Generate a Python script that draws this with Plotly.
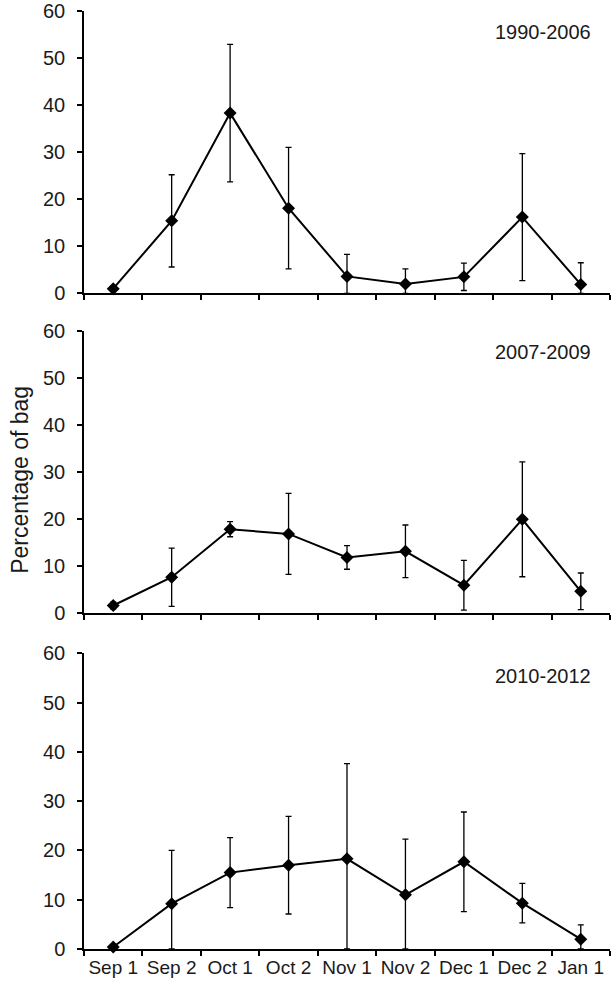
import plotly.graph_objects as go

categories = ["Sep 1", "Sep 2", "Oct 1", "Oct 2", "Nov 1", "Nov 2", "Dec 1", "Dec 2", "Jan 1"]
panel_labels = ["1990-2006", "2007-2009", "2010-2012"]

mean_1990_2006 = [1.0, 15.4, 38.3, 18.1, 3.6, 2.0, 3.5, 16.2, 1.9]
err_1990_2006 = [0.0, 9.8, 14.6, 12.9, 4.7, 3.2, 2.9, 13.5, 4.6]

mean_2007_2009 = [1.7, 7.7, 17.9, 16.9, 11.9, 13.2, 6.0, 20.0, 4.7]
err_2007_2009 = [0.7, 6.2, 1.6, 8.6, 2.5, 5.6, 5.3, 12.2, 3.9]

mean_2010_2012 = [0.4, 9.2, 15.5, 17.0, 18.3, 11.0, 17.7, 9.3, 2.0]
err_2010_2012 = [0.0, 10.8, 7.1, 9.9, 19.3, 11.3, 10.1, 4.0, 2.9]

y_ticks = [0, 10, 20, 30, 40, 50, 60]
y_title = "Percentage of bag"

series = [(mean_1990_2006, err_1990_2006),
          (mean_2007_2009, err_2007_2009),
          (mean_2010_2012, err_2010_2012)]

domains = [[0.699, 1.0], [0.3577, 0.6588], [0.0, 0.3152]]

FONT = "Liberation Sans, Arial, sans-serif"
INK = "#1a1a1a"

fig = go.Figure()
for i, (m, e) in enumerate(series):
    n = i + 1
    xa = "x" if n == 1 else f"x{n}"
    ya = "y" if n == 1 else f"y{n}"
    minus = [min(ei, mi) for mi, ei in zip(m, e)]
    fig.add_trace(go.Scatter(
        x=categories, y=m, xaxis=xa, yaxis=ya,
        mode="lines+markers",
        line=dict(color="#000000", width=2),
        marker=dict(symbol="diamond", size=10, color="#000000"),
        error_y=dict(type="data", array=e, arrayminus=minus, symmetric=False,
                     color="#000000", thickness=1.3, width=3),
        showlegend=False, cliponaxis=False,
    ))
    xkey = "xaxis" if n == 1 else f"xaxis{n}"
    ykey = "yaxis" if n == 1 else f"yaxis{n}"
    fig.layout[xkey] = dict(
        domain=[0, 1], anchor=ya, type="category",
        categoryorder="array", categoryarray=categories,
        range=[-0.5, len(categories) - 0.5],
        showline=True, linecolor="#000000", linewidth=1.5,
        ticks="outside", ticklen=5, tickwidth=1.5, tickcolor="#000000",
        tickson="boundaries", tickangle=0, automargin=False,
        showticklabels=(n == 3), showgrid=False, zeroline=False,
        tickfont=dict(family=FONT, size=19, color=INK),
    )
    fig.layout[ykey] = dict(
        domain=domains[i], anchor=xa,
        range=[0, 60], tickvals=y_ticks, automargin=False,
        showline=True, linecolor="#000000", linewidth=1.5,
        ticks="outside", ticklen=5, tickwidth=1.5, tickcolor="#000000",
        showgrid=False, zeroline=False, ticklabelstandoff=8,
        tickfont=dict(family=FONT, size=20, color=INK),
    )
    fig.add_annotation(
        text=panel_labels[i], xref=f"{xa} domain", yref=ya,
        x=0.968, y=55.5, xanchor="right", yanchor="middle",
        showarrow=False, font=dict(family=FONT, size=20, color=INK),
    )

fig.add_annotation(
    text=y_title, xref="paper", yref="paper", x=-0.122, y=0.5,
    xanchor="center", yanchor="middle", textangle=-90, showarrow=False,
    font=dict(family=FONT, size=23, color=INK),
)

fig.update_layout(
    width=613, height=985,
    margin=dict(l=84, r=3, t=11, b=36),
    paper_bgcolor="white", plot_bgcolor="white",
)

# remove the page's default body margin so the figure fills the window exactly
fig.write_html("out.html",
               config={"displayModeBar": False},
               post_script="document.body.style.margin='0';document.body.style.overflow='hidden';")
